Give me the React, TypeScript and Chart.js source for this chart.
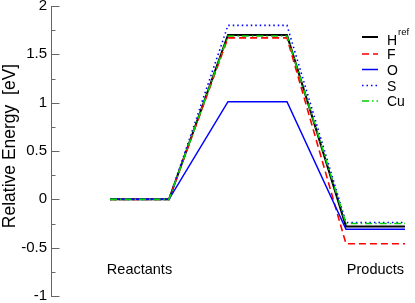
import React, { useEffect, useRef } from 'react';
import { Chart, registerables } from 'chart.js';

Chart.register(...registerables);

// ---- data ----
const stageX = [0, 1, 2, 3, 4, 5];
const seriesNames = ['H', 'F', 'O', 'S', 'Cu'];
const seriesSup = ['ref', '', '', '', ''];
const hRefValues = [0, 0, 1.70, 1.70, -0.28, -0.28];
const fValues = [0, 0, 1.67, 1.67, -0.46, -0.46];
const oValues = [0, 0, 1.01, 1.01, -0.31, -0.31];
const sValues = [0, 0, 1.80, 1.80, -0.24, -0.24];
const cuValues = [0, 0, 1.69, 1.69, -0.25, -0.25];
const stageLabels = ['Reactants', 'Products'];
const stageLabelX = [0.5, 4.5];
const stageLabelY = -0.77;
const yMin = -1;
const yMax = 2;
const yStep = 0.5;
const yTitle = 'Relative Energy  [eV]';

// ---- styles ----
const FONT = '"Liberation Sans", Arial, Helvetica, sans-serif';
const AXIS_COLOR = '#666666';
const seriesColors = ['#000000', '#ff0000', '#0000ff', '#0000ff', '#00d000'];
const seriesDash: number[][] = [[], [7, 4], [], [1.5, 3], [7, 3, 1.5, 3]];
const seriesWidth = [2, 1.6, 1.5, 1.6, 1.6];
const seriesValues = [hRefValues, fValues, oValues, sValues, cuValues];

const decorPlugin = {
  id: 'decor',
  afterDatasetsDraw(chart: any) {
    const { ctx, chartArea, scales } = chart;
    const y = scales.y;
    const x = scales.x;
    ctx.save();
    // inward major/minor ticks
    ctx.strokeStyle = AXIS_COLOR;
    ctx.lineWidth = 1;
    const vals: number[] = y.ticks.map((t: any) => t.value);
    const left = chartArea.left + 0.5;
    const drawTick = (v: number, len: number) => {
      const py = Math.round(y.getPixelForValue(v)) + 0.5;
      ctx.beginPath();
      ctx.moveTo(left - 0.5, py);
      ctx.lineTo(left + len, py);
      ctx.stroke();
    };
    for (let i = 0; i < vals.length; i++) {
      drawTick(vals[i], 8);
      if (i < vals.length - 1) drawTick((vals[i] + vals[i + 1]) / 2, 4);
    }
    // stage labels
    ctx.fillStyle = '#000';
    ctx.font = `14.5px ${FONT}`;
    ctx.textAlign = 'center';
    ctx.textBaseline = 'alphabetic';
    stageLabels.forEach((lab, i) => {
      ctx.fillText(lab, x.getPixelForValue(stageLabelX[i]), y.getPixelForValue(stageLabelY));
    });
    // y title
    ctx.save();
    ctx.translate(10.5, (chartArea.top + chartArea.bottom) / 2 - 5);
    ctx.rotate(-Math.PI / 2);
    ctx.font = `17.5px ${FONT}`;
    ctx.textAlign = 'center';
    ctx.textBaseline = 'middle';
    ctx.fillText(yTitle, 0, 0);
    ctx.restore();
    // legend
    const lx0 = chartArea.right - 51;
    const lx1 = chartArea.right - 35;
    const tx = chartArea.right - 26;
    const rowY = [37, 54, 69.5, 85.5, 101];
    seriesNames.forEach((name, i) => {
      const ly = rowY[i];
      ctx.strokeStyle = seriesColors[i];
      ctx.lineWidth = seriesWidth[i];
      ctx.setLineDash(seriesDash[i]);
      ctx.beginPath();
      ctx.moveTo(lx0, ly);
      ctx.lineTo(lx1, ly);
      ctx.stroke();
      ctx.setLineDash([]);
      ctx.fillStyle = '#000';
      ctx.textAlign = 'left';
      ctx.textBaseline = 'alphabetic';
      ctx.font = `14px ${FONT}`;
      const base = seriesSup[i] ? ly + 7.5 : ly + 5;
      ctx.fillText(name, tx, base);
      if (seriesSup[i]) {
        const w = ctx.measureText(name).width;
        ctx.font = `9.5px ${FONT}`;
        ctx.fillText(seriesSup[i], tx + w + 1, base - 9.5);
      }
    });
    ctx.restore();
  },
};

export default function App() {
  const ref = useRef<HTMLCanvasElement>(null);
  useEffect(() => {
    if (!ref.current) return;
    Chart.defaults.font.family = FONT;
    Chart.defaults.color = '#000';
    const chart = new Chart(ref.current, {
      type: 'line',
      data: {
        datasets: seriesNames.map((name, i) => ({
          label: name + seriesSup[i],
          data: stageX.map((xv, j) => ({ x: xv, y: seriesValues[i][j] })),
          borderColor: seriesColors[i],
          borderWidth: seriesWidth[i],
          borderDash: seriesDash[i],
          pointRadius: 0,
          tension: 0,
          fill: false,
          order: seriesNames.length - i,
        })),
      },
      options: {
        animation: false,
        responsive: false,
        layout: { padding: { top: 6, bottom: 7, left: 0, right: 2 } },
        plugins: {
          legend: { display: false },
          tooltip: { enabled: false },
        },
        scales: {
          x: {
            type: 'linear',
            display: false,
            min: -1,
            max: 5.136,
          },
          y: {
            type: 'linear',
            min: yMin,
            max: yMax,
            ticks: {
              stepSize: yStep,
              padding: 4,
              font: { size: 15 },
              color: '#000',
              callback: (v: any) => String(Number(v)),
            },
            grid: { display: false, drawTicks: false },
            border: { display: true, color: AXIS_COLOR, width: 1 },
            afterFit: (scale: any) => {
              scale.width = 51;
              scale.paddingTop = 0;
              scale.paddingBottom = 0;
            },
          },
        },
      },
      plugins: [decorPlugin],
    });
    return () => chart.destroy();
  }, []);
  return (
    <div style={{ position: 'fixed', left: 0, top: 0, width: 415, height: 303, background: '#fff' }}>
      <canvas ref={ref} width={415} height={303} style={{ display: 'block' }} />
    </div>
  );
}
